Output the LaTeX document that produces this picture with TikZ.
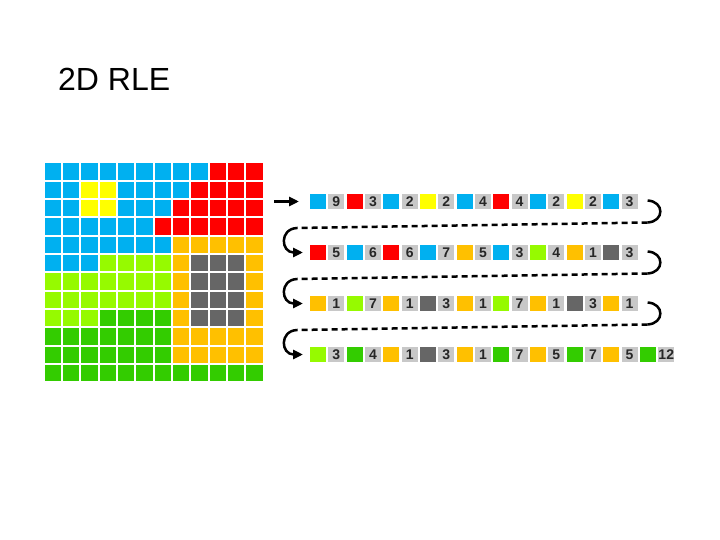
\documentclass[tikz,border=0pt]{standalone}
\usepackage{fontspec}
\setmainfont{Liberation Sans}
\usepackage{xcolor}
\definecolor{cB}{RGB}{0,176,240}
\definecolor{cR}{RGB}{255,0,0}
\definecolor{cY}{RGB}{255,255,0}
\definecolor{cO}{RGB}{255,192,0}
\definecolor{cG}{RGB}{102,102,102}
\definecolor{cL}{RGB}{150,250,0}
\definecolor{cD}{RGB}{51,204,0}
\definecolor{NumGray}{RGB}{200,200,200}
\usetikzlibrary{arrows.meta,positioning}

\begin{document}
\begin{tikzpicture}[x=1pt,y=-1pt,
    cell/.style={minimum size=16.3pt,inner sep=0pt,outer sep=0pt},
    runbox/.style={minimum width=16pt,minimum height=15.5pt,inner sep=0pt,outer sep=0pt},
    numbox/.style={runbox,fill=NumGray,font=\fontsize{14}{15}\selectfont\bfseries,text=black!85},
    hook/.style={line width=2.5pt},
    scan/.style={line width=2.5pt,dash pattern=on 6pt off 4pt},
    tip/.style={-{Triangle[length=10pt,width=9pt]}},
  ]
  \useasboundingbox (0,0) rectangle (720,540);
  \node[anchor=base west,font=\fontsize{32}{36}\selectfont,inner sep=0pt] (title) at (58,91) {2D RLE};

  % the 12x12 image
  \foreach \cols [count=\r] in {
      {B,B,B,B,B,B,B,B,B,R,R,R},
      {B,B,Y,Y,B,B,B,B,R,R,R,R},
      {B,B,Y,Y,B,B,B,R,R,R,R,R},
      {B,B,B,B,B,B,R,R,R,R,R,R},
      {B,B,B,B,B,B,B,O,O,O,O,O},
      {B,B,B,L,L,L,L,O,G,G,G,O},
      {L,L,L,L,L,L,L,O,G,G,G,O},
      {L,L,L,L,L,L,L,O,G,G,G,O},
      {L,L,L,D,D,D,D,O,G,G,G,O},
      {D,D,D,D,D,D,D,O,O,O,O,O},
      {D,D,D,D,D,D,D,O,O,O,O,O},
      {D,D,D,D,D,D,D,D,D,D,D,D}}
    \foreach \c [count=\k] in \cols
      \node[cell,fill=c\c] (px\r-\k) at ({52.85+(\k-1)*18.33},{171.45+(\r-1)*18.33}) {};

  % runs, one line per scan
  \foreach \runs [count=\r] in {
      {B/9,R/3,B/2,Y/2,B/4,R/4,B/2,Y/2,B/3},
      {R/5,B/6,R/6,B/7,O/5,B/3,L/4,O/1,G/3},
      {O/1,L/7,O/1,G/3,O/1,L/7,O/1,G/3,O/1},
      {L/3,D/4,O/1,G/3,O/1,D/7,O/5,D/7,O/5,D/12}}
    \foreach \c/\len [count=\k] in \runs {
      \node[runbox,fill=c\c] (c\r-\k) at ({318+(2*\k-2)*18.33},{201.5+(\r-1)*51}) {};
      \node[numbox] (n\r-\k) at ({318+(2*\k-1)*18.33},{201.5+(\r-1)*51}) {\len};
    }

  \coordinate (start) at (274,201.5);
  \draw[hook,tip] (start) -- ([xshift=-11pt]c1-1.west);

  \foreach \r in {1,2,3} {
    \pgfmathtruncatemacro{\nx}{\r+1}
    \path (n\r-9.east) ++(10,-1) coordinate (rt\r) ++(0,22) coordinate (rb\r);
    \path (c\nx-1.west) ++(-13,-24.5) coordinate (lt\r);
    \draw[hook] (rt\r) .. controls +(17,1) and +(17,-1) .. (rb\r);
    \draw[scan] (rb\r) -- (lt\r);
    \draw[hook,tip] (lt\r) .. controls +(-18,1) and +(-22,0) .. ([xshift=-7pt]c\nx-1.west);
  }
\end{tikzpicture}
\end{document}
